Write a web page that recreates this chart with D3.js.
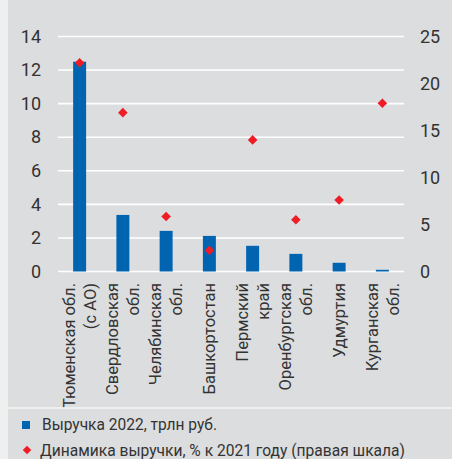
<!DOCTYPE html>
<html lang="ru">
<meta charset="utf-8">
<style>
    html, body {
        margin: 0;
        padding: 0;
        background: #efefef;
    }
    svg text {
        font-family: Roboto, sans-serif;
        fill: #333;
    }
</style>
<body>
<svg id="svg" width="452" height="459"></svg>
<script src="https://cdn.jsdelivr.net/npm/d3@7"></script>
<script>
    // data
    var regions = [
        ["Тюменская обл.", "(с АО)"],
        ["Свердловская", "обл."],
        ["Челябинская", "обл."],
        ["Башкортостан"],
        ["Пермский", "край"],
        ["Оренбургская", "обл."],
        ["Удмуртия"],
        ["Курганская", "обл."]
    ];
    var revenue = [12.5, 3.37, 2.42, 2.12, 1.53, 1.05, 0.52, 0.1];
    var growth = [22.2, 16.9, 5.85, 2.25, 14.0, 5.5, 7.6, 17.9];
    var leftTicks = [0, 2, 4, 6, 8, 10, 12, 14];
    var rightTicks = [0, 5, 10, 15, 20, 25];
    var legendLabels = ["Выручка 2022, трлн руб.", "Динамика выручки, % к 2021 году (правая шкала)"];

    var blue = "#0064b0", red = "#ee1c25";

    var svg = d3.select("svg");

    // panel background
    svg.append("rect")
        .attr("x", 8).attr("y", 0)
        .attr("width", 444).attr("height", 459)
        .attr("fill", "#dcdddf");

    var names = regions.map(d => d.join(" "));

    var x = d3.scaleBand()
        .domain(names)
        .range([58, 404])
        .paddingInner(0.7)
        .paddingOuter(0.35);

    var y = d3.scaleLinear().domain([0, 14]).range([271.5, 36.5]);
    var y2 = d3.scaleLinear().domain([0, 25]).range([271.5, 36.5]);

    // grid
    svg.append("g")
        .selectAll("line").data(leftTicks).enter().append("line")
            .attr("x1", 58).attr("x2", 404)
            .attr("y1", d => y(d)).attr("y2", d => y(d))
            .attr("stroke", "#fff")
            .attr("stroke-width", 1.6);

    // axes
    var yAxis = g => g
        .attr("transform", "translate(41,0)")
        .call(d3.axisLeft(y).tickValues(leftTicks).tickSize(0).tickPadding(0))
        .call(g => g.select(".domain").remove())
        .call(g => g.selectAll("text").style("font-size", "18px").attr("fill", "#333"));

    var yAxis2 = g => g
        .attr("transform", "translate(420,0)")
        .call(d3.axisRight(y2).tickValues(rightTicks).tickSize(0).tickPadding(0))
        .call(g => g.select(".domain").remove())
        .call(g => g.selectAll("text").style("font-size", "18px").attr("fill", "#333"));

    svg.append("g").call(yAxis);
    svg.append("g").call(yAxis2);

    // bars
    svg.append("g")
        .selectAll("rect").data(revenue).enter().append("rect")
            .attr("x", (d, i) => x(names[i]))
            .attr("width", x.bandwidth())
            .attr("y", d => y(d))
            .attr("height", d => y(0) - y(d))
            .attr("fill", blue);

    // diamonds
    var diamond = d3.symbol().type(d3.symbolSquare).size(46);
    svg.append("g")
        .selectAll("path").data(growth).enter().append("path")
            .attr("d", diamond)
            .attr("transform", (d, i) => "translate(" + (x(names[i]) + x.bandwidth() / 2) + "," + y2(d) + ") rotate(45)")
            .attr("fill", red);

    // category labels
    var lab = svg.append("g")
        .selectAll("text").data(regions).enter().append("text")
            .attr("transform", (d, i) => "translate(" + (x(names[i]) + x.bandwidth() / 2) + ",283) rotate(-90)")
            .attr("text-anchor", "end")
            .style("font-size", "16.5px");
    lab.each(function(d) {
        var t = d3.select(this);
        d.forEach((line, j) => {
            t.append("tspan")
                .attr("x", 0)
                .attr("y", (j - (d.length - 1) / 2) * 21)
                .attr("dy", "0.35em")
                .text(line);
        });
    });

    // separator
    svg.append("line")
        .attr("x1", 8).attr("x2", 452)
        .attr("y1", 408).attr("y2", 408)
        .attr("stroke", "#f4f4f4").attr("stroke-width", 1.5);

    // legend
    svg.append("rect")
        .attr("x", 22).attr("y", 421).attr("width", 8).attr("height", 8)
        .attr("fill", blue);
    svg.append("text")
        .attr("x", 42).attr("y", 430)
        .attr("textLength", 175).attr("lengthAdjust", "spacingAndGlyphs")
        .style("font-size", "16px")
        .text(legendLabels[0]);
    svg.append("path")
        .attr("d", d3.symbol().type(d3.symbolSquare).size(36))
        .attr("transform", "translate(27,450) rotate(45)")
        .attr("fill", red);
    svg.append("text")
        .attr("x", 40).attr("y", 456)
        .attr("textLength", 365).attr("lengthAdjust", "spacingAndGlyphs")
        .style("font-size", "16px")
        .text(legendLabels[1]);
</script>
</body>
</html>
